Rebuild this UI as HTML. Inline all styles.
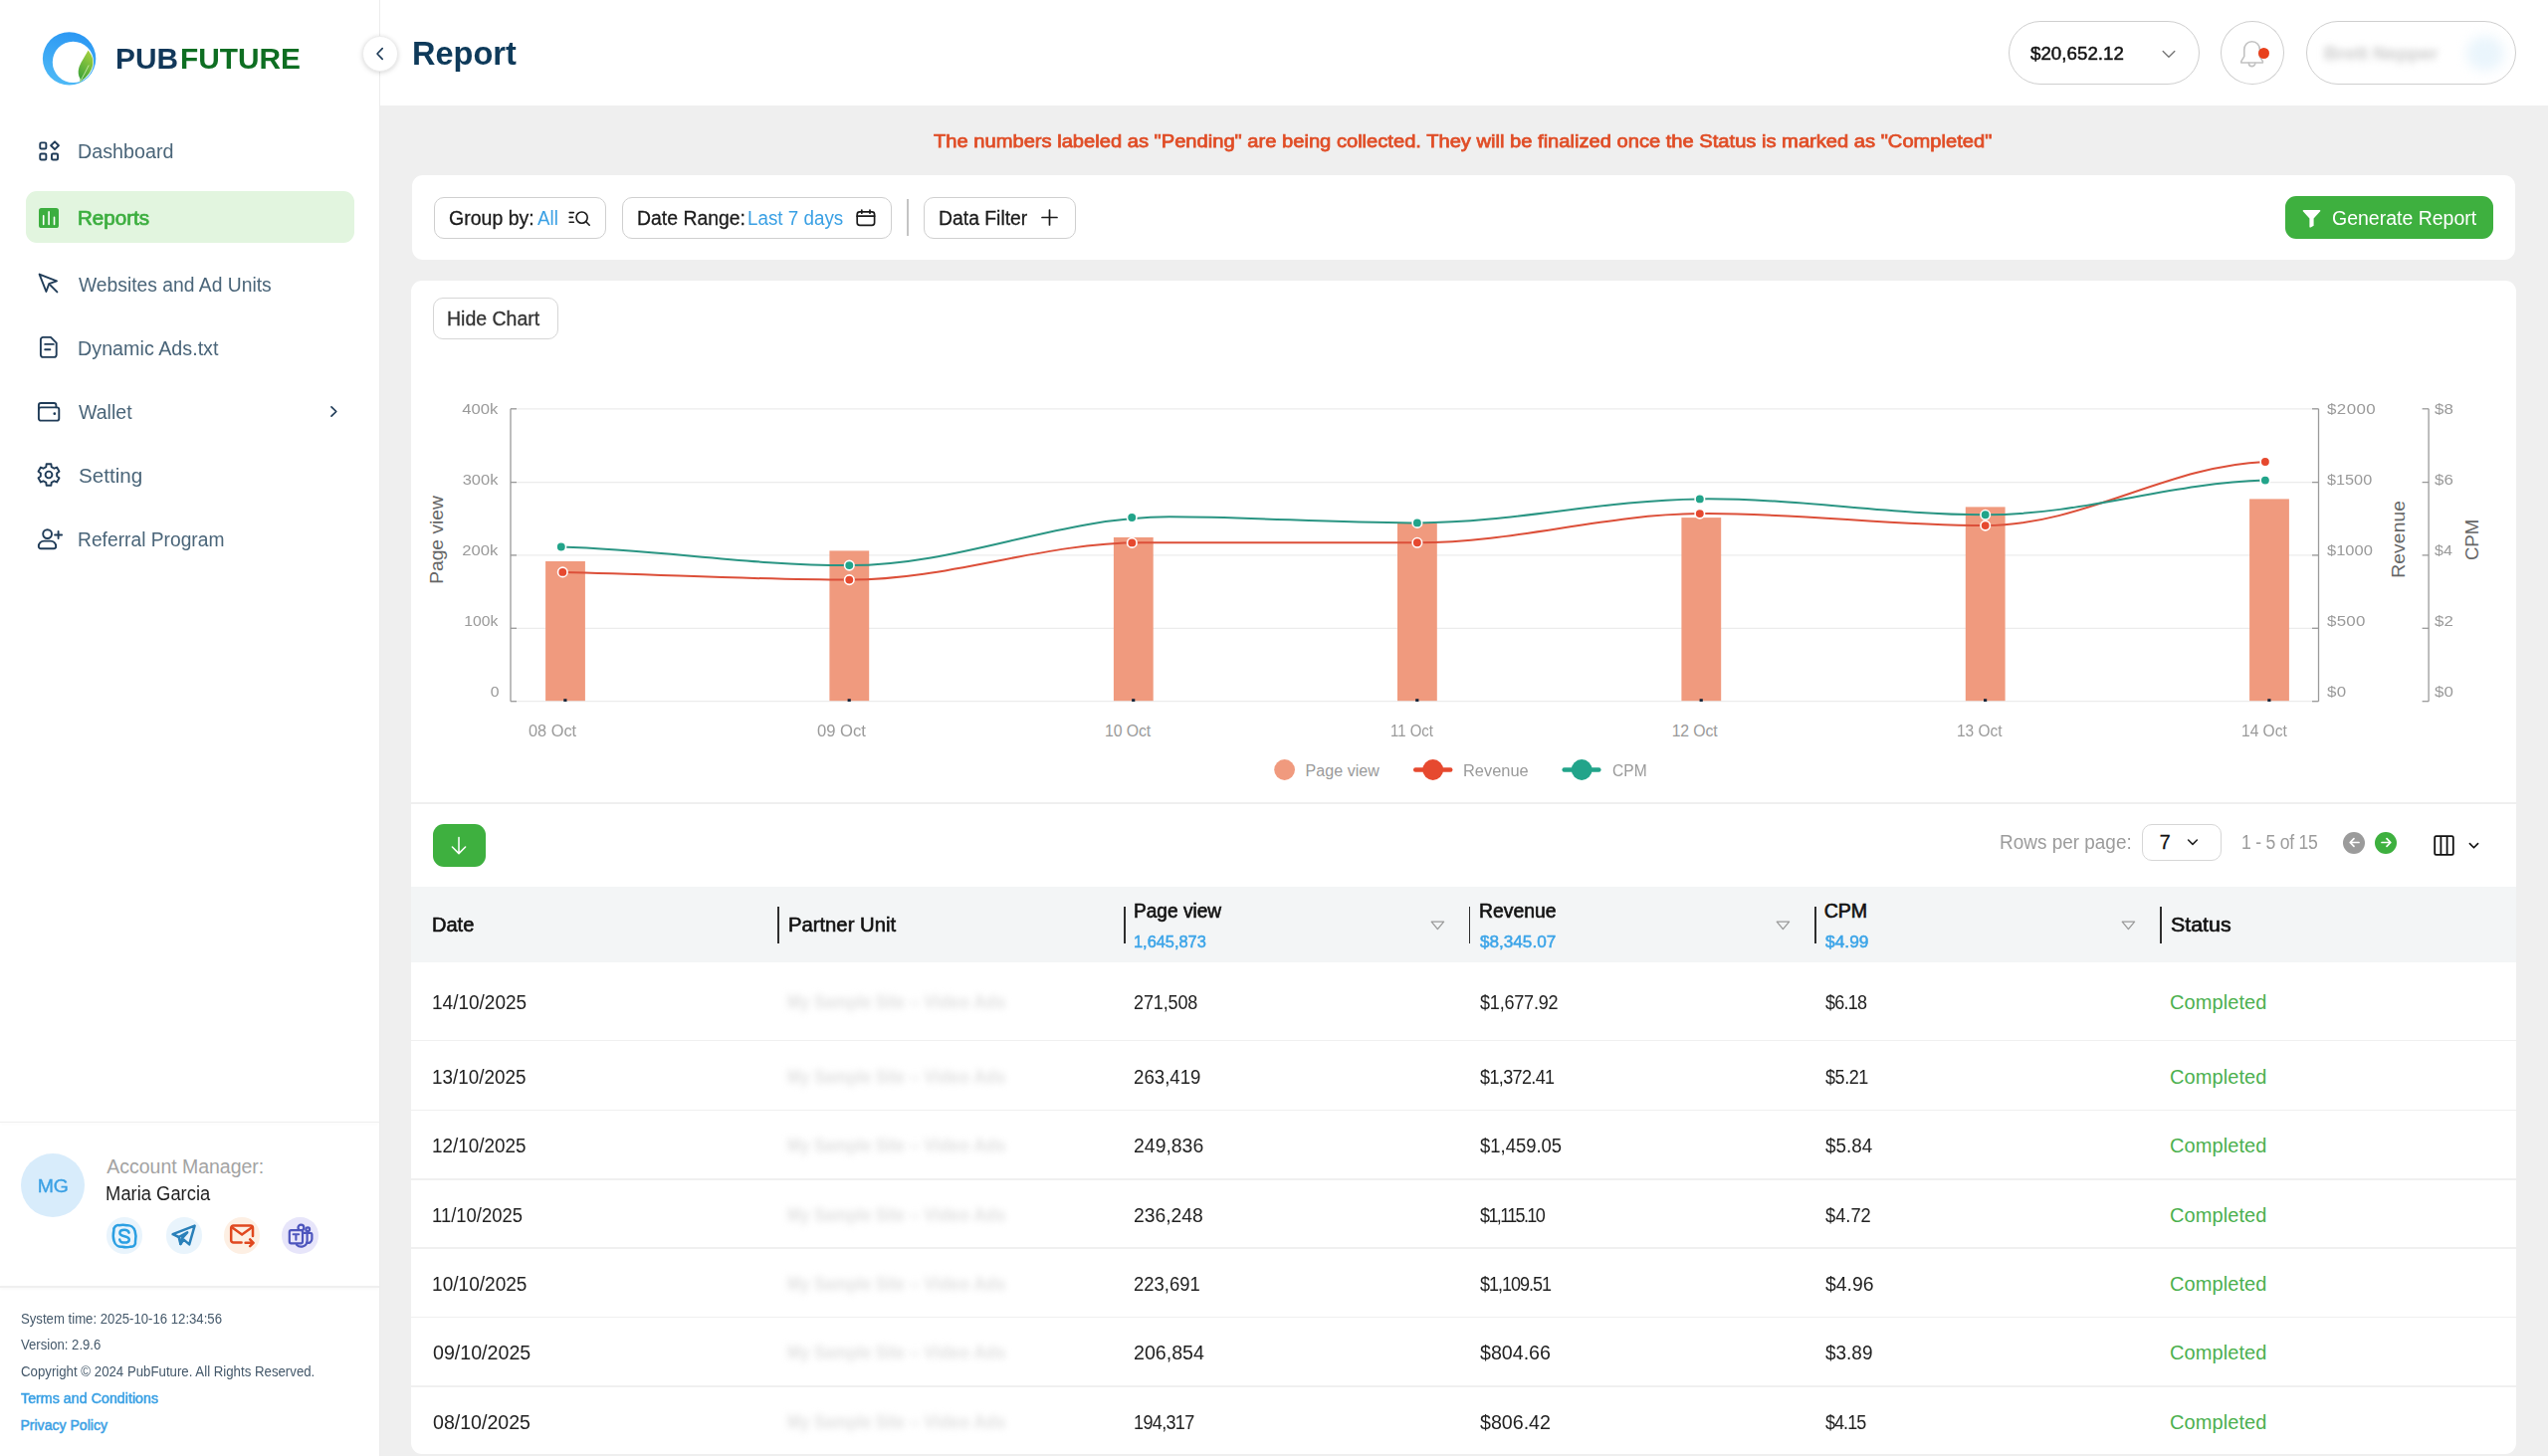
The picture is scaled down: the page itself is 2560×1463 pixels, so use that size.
<!DOCTYPE html>
<html lang="en"><head><meta charset="utf-8"><title>Report - PubFuture</title>
<style>
*{box-sizing:border-box;margin:0;padding:0}
html,body{width:2560px;height:1463px;overflow:hidden;background:#efefef;font-family:"Liberation Sans",sans-serif;}
.t{position:absolute;white-space:nowrap;line-height:1;display:block}
.abs{position:absolute}
.box{position:absolute;background:#fff}
.btn{position:absolute;border:1.5px solid #cfcfcf;border-radius:10px;background:#fff}
svg{position:absolute;overflow:visible}
.blur{filter:blur(3.2px)}
</style></head><body>
<div class="box" style="left:0;top:0;width:382px;height:1463px;border-right:1px solid #ececec"></div>
<div class="box" style="left:382px;top:0;width:2178px;height:105.5px"></div>
<svg style="left:41px;top:30px" width="58" height="58" viewBox="0 0 58 58">
<defs><linearGradient id="lg1" x1="0.6" y1="0" x2="0.3" y2="1"><stop offset="0" stop-color="#2b97f3"/><stop offset="1" stop-color="#4fbaf6"/></linearGradient>
<linearGradient id="lg2" x1="0.3" y1="1" x2="0.7" y2="0"><stop offset="0" stop-color="#3aa23a"/><stop offset="1" stop-color="#a4d03e"/></linearGradient></defs>
<path fill-rule="evenodd" fill="url(#lg1)" d="M28.6 2.2 A26.7 26.7 0 1 0 28.6 55.6 A26.7 26.7 0 1 0 28.6 2.2 Z M32.4 11.8 A20.6 20.6 0 1 1 32.4 53 A20.6 20.6 0 1 1 32.4 11.8 Z"/>
<path fill="url(#lg2)" d="M47.6 20.5 C50.5 24 53.2 29 52.3 34.5 C51.5 40.5 47.5 46.5 42.5 49.8 L39.1 52.8 L39.6 49.2 C37.6 46 37.2 42 38.2 38.5 C39.6 33.5 43.5 28 47.6 20.5 Z"/>
<path d="M48.2 35.5 C45.5 41 42.5 47 39.3 52.4" stroke="#d9f2bb" stroke-width="0.8" fill="none"/>
</svg>
<span class="t" style="left:116.10px;top:44.59px;font-size:29.2px;color:#12385a;font-weight:700;transform-origin:1.00px 14.60px;transform:scaleX(1.0227);">PUB</span>
<span class="t" style="left:181.00px;top:44.59px;font-size:29.2px;color:#0e6e22;font-weight:700;transform-origin:1.00px 14.60px;transform:scaleX(1.0223);">FUTURE</span>
<div class="abs" style="left:363.6px;top:35.8px;width:36.4px;height:36.4px;border-radius:50%;background:#fff;border:1px solid #ececec;box-shadow:0 1px 5px rgba(0,0,0,.16)"></div>
<svg style="left:376px;top:47px" width="12" height="14" viewBox="0 0 12 14"><path d="M8.2 1.6 L3 7 L8.2 12.4" fill="none" stroke="#1d3b57" stroke-width="1.6" stroke-linecap="round" stroke-linejoin="round"/></svg>
<span class="t" style="left:413.90px;top:37.48px;font-size:33px;color:#0e3a5a;font-weight:700;transform-origin:2.00px 16.50px;transform:scaleX(0.9843);">Report</span>
<svg style="left:38px;top:141px" width="23" height="23" viewBox="0 0 23 23" fill="none" stroke="#1f3b57" stroke-width="1.9" stroke-linejoin="round">
<rect x="2.25" y="2.35" width="6.1" height="6.1" rx="1.3"/><rect x="2.25" y="13.45" width="6.1" height="6.1" rx="1.3"/><rect x="13.95" y="13.45" width="6.1" height="6.1" rx="1.3"/>
<path d="M17.03 1.35 L20.93 5.25 L17.03 9.15 L13.13 5.25 Z"/></svg>
<span class="t" style="left:78.20px;top:142.23px;font-size:20px;color:#4a6579;transform-origin:1.00px 10.00px;transform:scaleX(0.9852);">Dashboard</span>
<div class="abs" style="left:25.8px;top:192.4px;width:330px;height:52px;border-radius:11px;background:#e2f5df"></div>
<svg style="left:39.3px;top:208.7px" width="20" height="20" viewBox="0 0 20 20"><rect x="0" y="0" width="20" height="20" rx="2.6" fill="#3cae3f"/>
<path d="M4.7 7.8 V16.5 M10.1 3.9 V16.5 M15.5 9.3 V16.5" stroke="#fff" stroke-width="1.6" stroke-linecap="round"/></svg>
<span class="t" style="left:78.20px;top:209.03px;font-size:20px;color:#3cae3f;transform-origin:1.00px 10.00px;transform:scaleX(1.0300);-webkit-text-stroke:0.7px #3cae3f;">Reports</span>
<svg style="left:37px;top:273px" width="24" height="24" viewBox="0 0 24 24" fill="none" stroke="#1f3b57" stroke-width="1.9" stroke-linejoin="round" stroke-linecap="round">
<path d="M2.6 2.6 L9.4 20 L12.2 12.2 L20 9.4 Z"/><path d="M13.4 13.4 L20.4 20.4"/></svg>
<span class="t" style="left:79.20px;top:275.53px;font-size:20px;color:#4a6579;transform-origin:0.00px 10.00px;transform:scaleX(0.9646);">Websites and Ad Units</span>
<svg style="left:39.4px;top:337.2px" width="20" height="24" viewBox="0 0 20 24" fill="none" stroke="#1f3b57" stroke-width="1.9" stroke-linejoin="round" stroke-linecap="round">
<path d="M1.9 4.2 a2.3 2.3 0 0 1 2.3 -2.3 H12 L17.7 7.6 V19.6 a2.3 2.3 0 0 1 -2.3 2.3 H4.2 a2.3 2.3 0 0 1 -2.3 -2.3 Z"/><path d="M6.2 8.9 H14.8 M6.2 14.2 H11.4"/></svg>
<span class="t" style="left:78.20px;top:339.73px;font-size:20px;color:#4a6579;transform-origin:1.00px 10.00px;transform:scaleX(0.9866);">Dynamic Ads.txt</span>
<svg style="left:37.2px;top:402.6px" width="24" height="22" viewBox="0 0 24 22" fill="none" stroke="#1f3b57" stroke-width="1.9" stroke-linejoin="round" stroke-linecap="round">
<rect x="1.9" y="6.4" width="20.4" height="13.2" rx="2.2"/><path d="M1.9 8.4 V4.2 a2.2 2.2 0 0 1 2.2 -2.2 H17.2 a2.2 2.2 0 0 1 2.2 2.2 V6.2"/><circle cx="17.8" cy="12.7" r="1.35" fill="#1f3b57" stroke="none"/></svg>
<span class="t" style="left:79.20px;top:403.63px;font-size:20px;color:#4a6579;transform-origin:0.00px 10.00px;transform:scaleX(0.9771);">Wallet</span>
<svg style="left:331px;top:407px" width="9" height="13" viewBox="0 0 9 13"><path d="M2 1.8 L6.8 6.5 L2 11.2" fill="none" stroke="#1f3b57" stroke-width="1.7" stroke-linecap="round" stroke-linejoin="round"/></svg>
<svg style="left:37.4px;top:465.2px" width="24" height="24" viewBox="0 0 24 24" fill="none" stroke="#1f3b57" stroke-width="1.9" stroke-linejoin="round" stroke-linecap="round">
<path d="M9.30 4.15 L9.62 1.26 L14.38 1.26 L14.70 4.15 L17.45 5.74 L20.11 4.57 L22.49 8.69 L20.15 10.42 L20.15 13.58 L22.49 15.31 L20.11 19.43 L17.45 18.26 L14.70 19.85 L14.38 22.74 L9.62 22.74 L9.30 19.85 L6.55 18.26 L3.89 19.43 L1.51 15.31 L3.85 13.58 L3.85 10.42 L1.51 8.69 L3.89 4.57 L6.55 5.74 Z"/><circle cx="12" cy="12" r="3.4"/></svg>
<span class="t" style="left:79.20px;top:468.03px;font-size:20px;color:#4a6579;transform-origin:0.00px 10.00px;transform:scaleX(1.0320);">Setting</span>
<svg style="left:36.6px;top:530px" width="27" height="23" viewBox="0 0 27 23" fill="none" stroke="#1f3b57" stroke-width="1.9" stroke-linejoin="round" stroke-linecap="round">
<circle cx="10.6" cy="6.6" r="4.4"/><path d="M1.8 19 c0 -3 2.4 -5.4 5.4 -5.4 h6.6 c3 0 5.4 2.4 5.4 5.4 c0 1.2 -1 2.2 -2.2 2.2 H4 c-1.2 0 -2.2 -1 -2.2 -2.2 Z"/><path d="M21.6 4 V11 M18.1 7.5 H25.1"/></svg>
<span class="t" style="left:78.20px;top:531.83px;font-size:20px;color:#4a6579;transform-origin:1.00px 10.00px;transform:scaleX(0.9610);">Referral Program</span>
<div class="abs" style="left:0;top:1126.5px;width:381px;height:1.6px;background:#efefef;box-shadow:0 1px 3px rgba(0,0,0,.04)"></div>
<div class="abs" style="left:21.4px;top:1159px;width:64px;height:64px;border-radius:50%;background:#d8ecfb"></div>
<span class="t" style="left:37.99px;top:1181.72px;font-size:19px;color:#3aa0e4;transform-origin:15.41px 9.50px;transform:scaleX(1.0233);-webkit-text-stroke:0.35px #3aa0e4;">MG</span>
<span class="t" style="left:107.30px;top:1163.47px;font-size:19.5px;color:#a3a3a3;letter-spacing:-0.023px;">Account Manager:</span>
<span class="t" style="left:106.30px;top:1189.43px;font-size:20px;color:#1f1f1f;transform-origin:1.00px 10.00px;transform:scaleX(0.9182);">Maria Garcia</span>
<div class="abs" style="left:107.1px;top:1223.3px;width:36.4px;height:36.4px;border-radius:50%;background:#e9f4fc"></div>
<div class="abs" style="left:166.5px;top:1223.3px;width:36.4px;height:36.4px;border-radius:50%;background:#e9f4fc"></div>
<div class="abs" style="left:224.9px;top:1223.3px;width:36.4px;height:36.4px;border-radius:50%;background:#fdefe3"></div>
<div class="abs" style="left:283.3px;top:1223.3px;width:36.4px;height:36.4px;border-radius:50%;background:#e7e5fa"></div>
<svg style="left:112.3px;top:1228.5px" width="26" height="26" viewBox="0 0 26 26" fill="none" stroke="#2b9fe2" stroke-width="2.5" stroke-linecap="round" stroke-linejoin="round">
<path d="M7.6 2.2 C5 1.6 2 4 2.4 7.2 C1.6 10.5 1.6 15 2.6 18 C3.6 22 7.2 24.2 10.8 23.8 C14 24.6 17 24.4 19.2 23.6 C22.4 24 24.6 21.4 24 18.6 C24.8 15 24.6 11 23.6 8 C22.6 4 19 1.8 15.4 2.2 C12.6 1.4 9.8 1.6 7.6 2.2 Z"/>
<path d="M17.6 9.6 C17 7.6 15.2 6.8 13 6.8 C10.4 6.8 8.4 8 8.4 10 C8.4 14.4 17.8 12 17.8 16.4 C17.8 18.4 15.8 19.6 13.2 19.6 C10.6 19.6 8.6 18.4 8.2 16.4"/></svg>
<svg style="left:171.2px;top:1229.0px" width="27" height="25" viewBox="0 0 27 25" fill="none" stroke="#2a80b9" stroke-width="2.5" stroke-linecap="round" stroke-linejoin="round">
<path d="M24.6 2.6 L2.6 11.2 L8.6 14 L10.4 21 L13.6 16.6 L19.2 21.4 Z"/><path d="M8.6 14 L17.2 9.4 L11.6 15.6 L10.4 21"/></svg>
<svg style="left:229.6px;top:1229.0px" width="27" height="25" viewBox="0 0 27 25" fill="none" stroke="#e0481f" stroke-width="2.5" stroke-linecap="round" stroke-linejoin="round">
<path d="M12.6 19.6 H4.6 a2.4 2.4 0 0 1 -2.4 -2.4 V4.8 a2.4 2.4 0 0 1 2.4 -2.4 H21.6 a2.4 2.4 0 0 1 2.4 2.4 V13"/><path d="M3.4 4.6 L13.1 11.6 L22.8 4.6"/><path d="M16.6 19.8 H24.4 M21.2 16.4 L24.6 19.8 L21.2 23.2"/></svg>
<svg style="left:288.5px;top:1228.5px" width="26" height="26" viewBox="0 0 26 26" fill="none" stroke="#4d55bd" stroke-width="2.2" stroke-linecap="round" stroke-linejoin="round">
<circle cx="13.4" cy="4.6" r="2.9"/><circle cx="20.2" cy="6.2" r="1.9"/>
<path d="M19.4 10 H23.2 a1.2 1.2 0 0 1 1.2 1.2 V16 a4 4 0 0 1 -5.4 3.7"/><path d="M14 9.8 H18.4 a1.2 1.2 0 0 1 1.2 1.2 V17.4 a6.2 6.2 0 0 1 -10.6 4.4"/>
<rect x="1.8" y="7.2" width="13.2" height="13.2" rx="1.8" fill="#e7e5fa"/><path d="M5.6 11.2 H11.2 M8.4 11.2 V16.8" stroke-width="2.1"/></svg>
<div class="abs" style="left:0;top:1292.3px;width:381px;height:1.6px;background:#efefef;box-shadow:0 1px 3px rgba(0,0,0,.04)"></div>
<span class="t" style="left:21.40px;top:1318.06px;font-size:14px;color:#44586a;transform-origin:0.00px 7.00px;transform:scaleX(0.9404);">System time: 2025-10-16 12:34:56</span>
<span class="t" style="left:21.40px;top:1344.46px;font-size:14px;color:#44586a;transform-origin:0.00px 7.00px;transform:scaleX(0.9379);">Version: 2.9.6</span>
<span class="t" style="left:21.40px;top:1371.26px;font-size:14px;color:#44586a;transform-origin:0.00px 7.00px;transform:scaleX(0.9457);">Copyright © 2024 PubFuture. All Rights Reserved.</span>
<span class="t" style="left:21.40px;top:1397.96px;font-size:14px;color:#3aa0e4;transform-origin:0.00px 7.00px;transform:scaleX(1.0199);-webkit-text-stroke:0.5px #3aa0e4;">Terms and Conditions</span>
<span class="t" style="left:20.40px;top:1424.86px;font-size:14px;color:#3aa0e4;letter-spacing:0.036px;-webkit-text-stroke:0.5px #3aa0e4;">Privacy Policy</span>
<div class="abs" style="left:2018px;top:21.4px;width:191.6px;height:63.6px;border:1.5px solid #cfcfcf;border-radius:32px;background:#fff"></div>
<span class="t" style="left:2039.90px;top:45.11px;font-size:18.2px;color:#111;transform-origin:0.00px 9.10px;transform:scaleX(1.0318);-webkit-text-stroke:0.45px #111;">$20,652.12</span>
<svg style="left:2171.5px;top:49.8px" width="14" height="9" viewBox="0 0 14 9"><path d="M1.2 1.4 L7 7.2 L12.8 1.4" fill="none" stroke="#777" stroke-width="1.4" stroke-linecap="round" stroke-linejoin="round"/></svg>
<div class="abs" style="left:2231px;top:21.4px;width:63.8px;height:63.6px;border:1.5px solid #cfcfcf;border-radius:50%;background:#fff"></div>
<svg style="left:2250.4px;top:39.8px" width="26" height="30" viewBox="0 0 26 30" fill="none" stroke="#c2c2c2" stroke-width="1.6" stroke-linecap="round" stroke-linejoin="round">
<path d="M12.6 1.8 C7.6 1.8 4.8 5.6 4.8 10 V16.6 L1.8 21.6 V23 H23.4 V21.6 L20.4 16.6 V10 C20.4 5.6 17.6 1.8 12.6 1.8 Z"/><path d="M9.4 23.4 a3.2 3.2 0 0 0 6.4 0"/></svg>
<div class="abs" style="left:2268.5px;top:47.8px;width:11px;height:11px;border-radius:50%;background:#e8401c"></div>
<div class="abs" style="left:2317px;top:21.4px;width:211px;height:63.6px;border:1.5px solid #cfcfcf;border-radius:32px;background:#fff"></div>
<span class="t" style="left:2335.00px;top:44.12px;font-size:19px;color:#cacaca;font-weight:700;letter-spacing:-0.062px;filter:blur(3.6px);">Brett Nepper</span>
<div class="abs" style="left:2478px;top:36px;width:38px;height:35px;border-radius:50%;background:#eaf5fc;filter:blur(6px)"></div>
<span class="t" style="left:938.40px;top:132.82px;font-size:18.8px;color:#e04d26;transform-origin:0.00px 9.40px;transform:scaleX(1.0719);-webkit-text-stroke:0.75px #e04d26;">The numbers labeled as "Pending" are being collected. They will be finalized once the Status is marked as "Completed"</span>
<div class="box" style="left:414.2px;top:175.8px;width:2113.1px;height:85.5px;border-radius:11px"></div>
<div class="btn" style="left:436.2px;top:197.6px;width:172.8px;height:42px"></div>
<span class="t" style="left:450.80px;top:209.13px;font-size:20px;color:#1b1b1b;transform-origin:1.00px 10.00px;transform:scaleX(0.9758);-webkit-text-stroke:0.3px #1b1b1b;">Group by:</span>
<span class="t" style="left:540.20px;top:209.13px;font-size:20px;color:#3aa0e4;transform-origin:0.00px 10.00px;transform:scaleX(0.9365);">All</span>
<svg style="left:571px;top:209px" width="23" height="20" viewBox="0 0 23 20" fill="none" stroke="#1b1b1b" stroke-width="1.6" stroke-linecap="round">
<circle cx="13.6" cy="9.6" r="5.6"/><path d="M17.8 13.8 L21.2 17.2"/><path d="M1.2 4.6 H5.4 M1.2 9.4 H4.4 M1.2 14.2 H5.4"/></svg>
<div class="btn" style="left:625.2px;top:197.6px;width:270.4px;height:42px"></div>
<span class="t" style="left:640.20px;top:209.13px;font-size:20px;color:#1b1b1b;transform-origin:1.00px 10.00px;transform:scaleX(0.9696);-webkit-text-stroke:0.3px #1b1b1b;">Date Range:</span>
<span class="t" style="left:751.20px;top:209.13px;font-size:20px;color:#3aa0e4;transform-origin:1.00px 10.00px;transform:scaleX(0.9399);">Last 7 days</span>
<svg style="left:859.6px;top:210.2px" width="20" height="18" viewBox="0 0 20 18" fill="none" stroke="#1b1b1b" stroke-width="1.7" stroke-linecap="round" stroke-linejoin="round">
<rect x="1.2" y="2.8" width="17.4" height="13.6" rx="2.6"/><path d="M1.2 7.2 H18.6 M5.8 1 V4.2 M14 1 V4.2"/></svg>
<div class="abs" style="left:911.2px;top:200px;width:1.6px;height:37px;background:#c4c4c4"></div>
<div class="btn" style="left:928.2px;top:197.6px;width:152.6px;height:42px"></div>
<span class="t" style="left:943.20px;top:209.13px;font-size:20px;color:#1b1b1b;transform-origin:1.00px 10.00px;transform:scaleX(0.9674);-webkit-text-stroke:0.3px #1b1b1b;">Data Filter</span>
<svg style="left:1046px;top:210.2px" width="17" height="17" viewBox="0 0 17 17"><path d="M8.5 1 V16 M1 8.5 H16" stroke="#1b1b1b" stroke-width="1.7" stroke-linecap="round"/></svg>
<div class="abs" style="left:2296px;top:197.2px;width:209.2px;height:42.7px;border-radius:11px;background:#3eb03f"></div>
<svg style="left:2313px;top:209.8px" width="19" height="19" viewBox="0 0 19 19"><path d="M1.4 1 H17.6 a0.8 0.8 0 0 1 0.6 1.3 L11.6 9.6 V16.4 a0.8 0.8 0 0 1 -0.4 0.7 L8.6 18.4 a0.8 0.8 0 0 1 -1.2 -0.7 V9.6 L0.8 2.3 A0.8 0.8 0 0 1 1.4 1 Z" fill="#fff"/></svg>
<span class="t" style="left:2343.00px;top:209.13px;font-size:20px;color:#fff;transform-origin:1.00px 10.00px;transform:scaleX(0.9743);">Generate Report</span>
<div class="box" style="left:413.4px;top:282.3px;width:2114.9px;height:1178.5px;border-radius:11px"></div>
<div class="btn" style="left:434.6px;top:299px;width:126.2px;height:41.8px;border-color:#d6d6d6"></div>
<span class="t" style="left:449.40px;top:310.23px;font-size:20px;color:#333;transform-origin:1.00px 10.00px;transform:scaleX(0.9743);-webkit-text-stroke:0.3px #333;">Hide Chart</span>
<svg style="left:0;top:0" width="2560" height="1463" viewBox="0 0 2560 1463">
<path d="M513 410.8 H2329" stroke="#ececec" stroke-width="1.3"/>
<path d="M513 484.6 H2329" stroke="#ececec" stroke-width="1.3"/>
<path d="M513 557.9 H2329" stroke="#ececec" stroke-width="1.3"/>
<path d="M513 631.3 H2329" stroke="#ececec" stroke-width="1.3"/>
<path d="M513 704.7 H2329" stroke="#ececec" stroke-width="1.3"/>
<path d="M513 410.8 V704.7" stroke="#9a9a9a" stroke-width="1.3"/>
<path d="M513 410.8 h6" stroke="#9a9a9a" stroke-width="1.3"/>
<path d="M513 484.6 h6" stroke="#9a9a9a" stroke-width="1.3"/>
<path d="M513 557.9 h6" stroke="#9a9a9a" stroke-width="1.3"/>
<path d="M513 631.3 h6" stroke="#9a9a9a" stroke-width="1.3"/>
<path d="M513 704.7 h6" stroke="#9a9a9a" stroke-width="1.3"/>
<path d="M2329.5 410.8 V704.7" stroke="#9a9a9a" stroke-width="1.3"/>
<path d="M2329.5 410.8 h-6.5" stroke="#9a9a9a" stroke-width="1.3"/>
<path d="M2329.5 484.6 h-6.5" stroke="#9a9a9a" stroke-width="1.3"/>
<path d="M2329.5 557.9 h-6.5" stroke="#9a9a9a" stroke-width="1.3"/>
<path d="M2329.5 631.3 h-6.5" stroke="#9a9a9a" stroke-width="1.3"/>
<path d="M2329.5 704.7 h-6.5" stroke="#9a9a9a" stroke-width="1.3"/>
<path d="M2440.1 410.8 V704.7" stroke="#9a9a9a" stroke-width="1.3"/>
<path d="M2440.1 410.8 h-6.5" stroke="#9a9a9a" stroke-width="1.3"/>
<path d="M2440.1 484.6 h-6.5" stroke="#9a9a9a" stroke-width="1.3"/>
<path d="M2440.1 557.9 h-6.5" stroke="#9a9a9a" stroke-width="1.3"/>
<path d="M2440.1 631.3 h-6.5" stroke="#9a9a9a" stroke-width="1.3"/>
<path d="M2440.1 704.7 h-6.5" stroke="#9a9a9a" stroke-width="1.3"/>
<rect x="548.1" y="564.0" width="39.8" height="140.2" fill="#f09a7e"/>
<rect x="833.4" y="553.4" width="39.8" height="150.8" fill="#f09a7e"/>
<rect x="1118.9" y="539.9" width="39.8" height="164.3" fill="#f09a7e"/>
<rect x="1404.0" y="526.0" width="39.8" height="178.2" fill="#f09a7e"/>
<rect x="1689.4" y="520.1" width="39.8" height="184.1" fill="#f09a7e"/>
<rect x="1974.8" y="509.4" width="39.8" height="194.8" fill="#f09a7e"/>
<rect x="2260.1" y="501.4" width="39.8" height="202.8" fill="#f09a7e"/>
<rect x="566.3" y="702.2" width="3.2" height="2.8" fill="#16263a"/>
<rect x="851.6" y="702.2" width="3.2" height="2.8" fill="#16263a"/>
<rect x="1137.1" y="702.2" width="3.2" height="2.8" fill="#16263a"/>
<rect x="1422.2" y="702.2" width="3.2" height="2.8" fill="#16263a"/>
<rect x="1707.6" y="702.2" width="3.2" height="2.8" fill="#16263a"/>
<rect x="1993.0" y="702.2" width="3.2" height="2.8" fill="#16263a"/>
<rect x="2278.3" y="702.2" width="3.2" height="2.8" fill="#16263a"/>
<path d="M565.3 574.9 C666.1 576.9 752.5 582.6 853.3 582.6 C956.1 582.6 1044.2 545.3 1147.0 545.3 C1243.9 545.3 1327.0 545.3 1423.9 545.3 C1523.3 545.3 1608.4 517.1 1707.8 516.1 C1808.2 515.1 1894.3 528.1 1994.7 528.1 C2093.1 528.1 2177.5 467.9 2275.9 464.0" fill="none" stroke="#dc4f39" stroke-width="2"/>
<path d="M563.8 549.5 C665.1 552.5 752.0 568.1 853.3 568.1 C965.9 568.1 1062.4 519.3 1175.0 519.3 C1262.1 519.3 1336.8 525.8 1423.9 525.4 C1523.3 524.9 1608.4 502.4 1707.8 501.4 C1808.2 500.4 1894.3 517.3 1994.7 517.3 C2093.1 517.3 2177.5 485.6 2275.9 482.6" fill="none" stroke="#2a9583" stroke-width="2"/>
<circle cx="565.3" cy="574.9" r="4.75" fill="#e6492f" stroke="#fff" stroke-width="1.6"/>
<circle cx="853.3" cy="582.6" r="4.75" fill="#e6492f" stroke="#fff" stroke-width="1.6"/>
<circle cx="1137.3" cy="545.4" r="4.75" fill="#e6492f" stroke="#fff" stroke-width="1.6"/>
<circle cx="1423.9" cy="545.3" r="4.75" fill="#e6492f" stroke="#fff" stroke-width="1.6"/>
<circle cx="1707.8" cy="516.1" r="4.75" fill="#e6492f" stroke="#fff" stroke-width="1.6"/>
<circle cx="1994.7" cy="528.1" r="4.75" fill="#e6492f" stroke="#fff" stroke-width="1.6"/>
<circle cx="2275.9" cy="464.0" r="4.75" fill="#e6492f" stroke="#fff" stroke-width="1.6"/>
<circle cx="563.8" cy="549.5" r="4.75" fill="#22a48a" stroke="#fff" stroke-width="1.6"/>
<circle cx="853.3" cy="568.1" r="4.75" fill="#22a48a" stroke="#fff" stroke-width="1.6"/>
<circle cx="1137.2" cy="520.0" r="4.75" fill="#22a48a" stroke="#fff" stroke-width="1.6"/>
<circle cx="1423.9" cy="525.4" r="4.75" fill="#22a48a" stroke="#fff" stroke-width="1.6"/>
<circle cx="1707.8" cy="501.4" r="4.75" fill="#22a48a" stroke="#fff" stroke-width="1.6"/>
<circle cx="1994.7" cy="517.3" r="4.75" fill="#22a48a" stroke="#fff" stroke-width="1.6"/>
<circle cx="2275.9" cy="482.6" r="4.75" fill="#22a48a" stroke="#fff" stroke-width="1.6"/>
<circle cx="1290.6" cy="773.5" r="10.4" fill="#f09a7e"/>
<path d="M1422.2 773.5 H1457.3" stroke="#e6492f" stroke-width="4.4" stroke-linecap="round"/><circle cx="1439.7" cy="773.5" r="10.4" fill="#e6492f"/>
<path d="M1571.6 773.5 H1606.4" stroke="#22a48a" stroke-width="4.4" stroke-linecap="round"/><circle cx="1589.2" cy="773.5" r="10.4" fill="#22a48a"/>
</svg>
<span class="t" style="left:467.32px;top:403.18px;font-size:15.4px;color:#9a9a9a;transform-origin:33.68px 7.70px;transform:scaleX(1.0808);">400k</span>
<span class="t" style="left:467.32px;top:474.13px;font-size:15.4px;color:#9a9a9a;transform-origin:33.68px 7.70px;transform:scaleX(1.0689);">300k</span>
<span class="t" style="left:467.32px;top:545.08px;font-size:15.4px;color:#9a9a9a;transform-origin:33.68px 7.70px;transform:scaleX(1.0808);">200k</span>
<span class="t" style="left:467.32px;top:616.03px;font-size:15.4px;color:#9a9a9a;transform-origin:33.68px 7.70px;transform:scaleX(1.0221);">100k</span>
<span class="t" style="left:493.00px;top:686.98px;font-size:15.4px;color:#9a9a9a;transform-origin:8.00px 7.70px;transform:scaleX(1.0250);">0</span>
<span class="t" style="left:2338.10px;top:403.18px;font-size:15.4px;color:#9a9a9a;letter-spacing:0.372px;transform-origin:0.00px 7.70px;transform:scaleX(1.1000);">$2000</span>
<span class="t" style="left:2338.10px;top:474.13px;font-size:15.4px;color:#9a9a9a;transform-origin:0.00px 7.70px;transform:scaleX(1.0559);">$1500</span>
<span class="t" style="left:2338.10px;top:545.08px;font-size:15.4px;color:#9a9a9a;transform-origin:0.00px 7.70px;transform:scaleX(1.0725);">$1000</span>
<span class="t" style="left:2338.10px;top:616.03px;font-size:15.4px;color:#9a9a9a;letter-spacing:0.228px;transform-origin:0.00px 7.70px;transform:scaleX(1.1000);">$500</span>
<span class="t" style="left:2338.10px;top:686.98px;font-size:15.4px;color:#9a9a9a;letter-spacing:0.350px;transform-origin:0.00px 7.70px;transform:scaleX(1.1000);">$0</span>
<span class="t" style="left:2446.20px;top:403.18px;font-size:15.4px;color:#9a9a9a;letter-spacing:0.077px;transform-origin:0.00px 7.70px;transform:scaleX(1.1000);">$8</span>
<span class="t" style="left:2446.20px;top:474.13px;font-size:15.4px;color:#9a9a9a;letter-spacing:0.077px;transform-origin:0.00px 7.70px;transform:scaleX(1.1000);">$6</span>
<span class="t" style="left:2446.20px;top:545.08px;font-size:15.4px;color:#9a9a9a;transform-origin:0.00px 7.70px;transform:scaleX(1.0422);">$4</span>
<span class="t" style="left:2446.20px;top:616.03px;font-size:15.4px;color:#9a9a9a;letter-spacing:0.077px;transform-origin:0.00px 7.70px;transform:scaleX(1.1000);">$2</span>
<span class="t" style="left:2446.20px;top:686.98px;font-size:15.4px;color:#9a9a9a;letter-spacing:0.077px;transform-origin:0.00px 7.70px;transform:scaleX(1.1000);">$0</span>
<span class="t" style="left:398.95px;top:533.45px;font-size:17.5px;color:#666;transform-origin:41.05px 8.75px;transform:rotate(-90deg) scaleX(1.0986);">Page view</span>
<span class="t" style="left:2374.70px;top:533.45px;font-size:17.5px;color:#666;letter-spacing:0.114px;transform-origin:35.50px 8.75px;transform:rotate(-90deg) scaleX(1.1000);">Revenue</span>
<span class="t" style="left:2466.34px;top:533.85px;font-size:17.5px;color:#666;transform-origin:19.16px 8.75px;transform:rotate(-90deg) scaleX(1.0598);">CPM</span>
<span class="t" style="left:531.20px;top:727.08px;font-size:15.8px;color:#9a9a9a;transform-origin:0.00px 7.90px;transform:scaleX(1.0351);">08 Oct</span>
<span class="t" style="left:820.70px;top:727.08px;font-size:15.8px;color:#9a9a9a;transform-origin:0.00px 7.90px;transform:scaleX(1.0521);">09 Oct</span>
<span class="t" style="left:1110.00px;top:727.08px;font-size:15.8px;color:#9a9a9a;letter-spacing:-0.089px;">10 Oct</span>
<span class="t" style="left:1396.50px;top:727.08px;font-size:15.8px;color:#9a9a9a;transform-origin:1.00px 7.90px;transform:scaleX(0.9450);">11 Oct</span>
<span class="t" style="left:1679.70px;top:727.08px;font-size:15.8px;color:#9a9a9a;letter-spacing:-0.109px;">12 Oct</span>
<span class="t" style="left:1965.90px;top:727.08px;font-size:15.8px;color:#9a9a9a;transform-origin:1.00px 7.90px;transform:scaleX(0.9773);">13 Oct</span>
<span class="t" style="left:2251.80px;top:727.08px;font-size:15.8px;color:#9a9a9a;transform-origin:1.00px 7.90px;transform:scaleX(0.9838);">14 Oct</span>
<span class="t" style="left:1311.60px;top:766.78px;font-size:16px;color:#9a9a9a;letter-spacing:0.054px;">Page view</span>
<span class="t" style="left:1470.00px;top:766.78px;font-size:16px;color:#9a9a9a;transform-origin:1.00px 8.00px;transform:scaleX(1.0262);">Revenue</span>
<span class="t" style="left:1620.20px;top:766.78px;font-size:16px;color:#9a9a9a;transform-origin:0.00px 8.00px;transform:scaleX(0.9737);">CPM</span>
<div class="abs" style="left:413.4px;top:806.4px;width:2114.9px;height:1.5px;background:#efefef"></div>
<div class="abs" style="left:434.6px;top:828.4px;width:53.4px;height:42.2px;border-radius:11px;background:#3eb03f"></div>
<svg style="left:452.2px;top:839.6px" width="18" height="20" viewBox="0 0 18 20"><path d="M9 1.6 V17.6 M2.4 11 L9 17.6 L15.6 11" fill="none" stroke="#fff" stroke-width="1.5" stroke-linecap="round" stroke-linejoin="round"/></svg>
<span class="t" style="left:2008.70px;top:837.23px;font-size:19.6px;color:#9c9c9c;transform-origin:1.00px 9.80px;transform:scaleX(0.9667);">Rows per page:</span>
<div class="btn" style="left:2152.1px;top:828.1px;width:79.5px;height:37.3px;border-radius:10px;border-color:#d6d6d6"></div>
<span class="t" style="left:2169.80px;top:837.23px;font-size:19.6px;color:#111;-webkit-text-stroke:0.3px #111;">7</span>
<svg style="left:2197px;top:842.2px" width="12" height="9" viewBox="0 0 12 9"><path d="M1.6 2 L6 6.4 L10.4 2" fill="none" stroke="#222" stroke-width="1.6" stroke-linecap="round" stroke-linejoin="round"/></svg>
<span class="t" style="left:2252.40px;top:837.23px;font-size:19.6px;color:#9c9c9c;letter-spacing:-0.289px;transform-origin:1.00px 9.80px;transform:scaleX(0.9000);">1 - 5 of 15</span>
<div class="abs" style="left:2354.2px;top:835.8px;width:22px;height:22px;border-radius:50%;background:#9b9b9b"></div>
<svg style="left:2358.7px;top:840.3px" width="13" height="13" viewBox="0 0 13 13"><path d="M11 6.5 H2.2 M6 2.6 L2.2 6.5 L6 10.4" fill="none" stroke="#fff" stroke-width="1.7" stroke-linecap="round" stroke-linejoin="round"/></svg>
<div class="abs" style="left:2386.2px;top:835.8px;width:22px;height:22px;border-radius:50%;background:#3eb03f"></div>
<svg style="left:2390.7px;top:840.3px" width="13" height="13" viewBox="0 0 13 13"><path d="M2 6.5 H10.8 M7 2.6 L10.8 6.5 L7 10.4" fill="none" stroke="#fff" stroke-width="1.7" stroke-linecap="round" stroke-linejoin="round"/></svg>
<svg style="left:2445.4px;top:839.2px" width="21" height="21" viewBox="0 0 21 21" fill="none" stroke="#111" stroke-width="1.8" stroke-linejoin="round"><rect x="1.2" y="1.2" width="18.6" height="18.6" rx="1.6"/><path d="M7.4 1.2 V19.8 M13.6 1.2 V19.8"/></svg>
<svg style="left:2479.6px;top:846px" width="11" height="8" viewBox="0 0 11 8"><path d="M1.4 1.6 L5.5 5.8 L9.6 1.6" fill="none" stroke="#111" stroke-width="1.6" stroke-linecap="round" stroke-linejoin="round"/></svg>
<div class="abs" style="left:413.4px;top:891px;width:2114.9px;height:76px;background:#f3f5f6"></div>
<div class="abs" style="left:781.3000000000001px;top:910.8px;width:1.6px;height:36.8px;background:#2e2e2e"></div>
<div class="abs" style="left:1129.0px;top:910.8px;width:1.6px;height:36.8px;background:#2e2e2e"></div>
<div class="abs" style="left:1475.7px;top:910.8px;width:1.6px;height:36.8px;background:#2e2e2e"></div>
<div class="abs" style="left:1823.0px;top:910.8px;width:1.6px;height:36.8px;background:#2e2e2e"></div>
<div class="abs" style="left:2170.0px;top:910.8px;width:1.6px;height:36.8px;background:#2e2e2e"></div>
<span class="t" style="left:434.20px;top:920.13px;font-size:19.6px;color:#111;transform-origin:1.00px 9.80px;transform:scaleX(1.0225);-webkit-text-stroke:0.6px #111;">Date</span>
<span class="t" style="left:791.50px;top:920.13px;font-size:19.6px;color:#111;transform-origin:1.00px 9.80px;transform:scaleX(1.0336);-webkit-text-stroke:0.6px #111;">Partner Unit</span>
<span class="t" style="left:2181.20px;top:920.13px;font-size:19.6px;color:#111;transform-origin:0.00px 9.80px;transform:scaleX(1.0906);-webkit-text-stroke:0.6px #111;">Status</span>
<span class="t" style="left:1138.90px;top:905.63px;font-size:19.6px;color:#111;transform-origin:1.00px 9.80px;transform:scaleX(0.9739);-webkit-text-stroke:0.6px #111;">Page view</span>
<span class="t" style="left:1138.90px;top:938.78px;font-size:16px;color:#3ba4e8;transform-origin:1.00px 8.00px;transform:scaleX(1.0230);-webkit-text-stroke:0.5px #3ba4e8;">1,645,873</span>
<span class="t" style="left:1485.80px;top:905.63px;font-size:19.6px;color:#111;transform-origin:1.00px 9.80px;transform:scaleX(0.9879);-webkit-text-stroke:0.6px #111;">Revenue</span>
<span class="t" style="left:1486.80px;top:938.78px;font-size:16px;color:#3ba4e8;transform-origin:0.00px 8.00px;transform:scaleX(1.0704);-webkit-text-stroke:0.5px #3ba4e8;">$8,345.07</span>
<span class="t" style="left:1832.70px;top:905.63px;font-size:19.6px;color:#111;letter-spacing:-0.109px;-webkit-text-stroke:0.6px #111;">CPM</span>
<span class="t" style="left:1833.70px;top:938.78px;font-size:16px;color:#3ba4e8;transform-origin:0.00px 8.00px;transform:scaleX(1.0862);-webkit-text-stroke:0.5px #3ba4e8;">$4.99</span>
<svg style="left:1436.9px;top:925.2px" width="15" height="10" viewBox="0 0 15 10"><path d="M1.2 1.2 H13.6 L7.4 8.6 Z" fill="none" stroke="#9a9a9a" stroke-width="1.3" stroke-linejoin="round"/></svg>
<svg style="left:1783.8px;top:925.2px" width="15" height="10" viewBox="0 0 15 10"><path d="M1.2 1.2 H13.6 L7.4 8.6 Z" fill="none" stroke="#9a9a9a" stroke-width="1.3" stroke-linejoin="round"/></svg>
<svg style="left:2131.0px;top:925.2px" width="15" height="10" viewBox="0 0 15 10"><path d="M1.2 1.2 H13.6 L7.4 8.6 Z" fill="none" stroke="#9a9a9a" stroke-width="1.3" stroke-linejoin="round"/></svg>
<div class="abs" style="left:413.4px;top:1044.6000000000001px;width:2114.9px;height:1.6px;background:#f0f0f0"></div>
<div class="abs" style="left:413.4px;top:1114.6000000000001px;width:2114.9px;height:1.6px;background:#f0f0f0"></div>
<div class="abs" style="left:413.4px;top:1184.2px;width:2114.9px;height:1.6px;background:#f0f0f0"></div>
<div class="abs" style="left:413.4px;top:1253.4px;width:2114.9px;height:1.6px;background:#f0f0f0"></div>
<div class="abs" style="left:413.4px;top:1322.6000000000001px;width:2114.9px;height:1.6px;background:#f0f0f0"></div>
<div class="abs" style="left:413.4px;top:1392.0px;width:2114.9px;height:1.6px;background:#f0f0f0"></div>
<span class="t" style="left:434.20px;top:997.03px;font-size:20px;color:#222;transform-origin:1.00px 10.00px;transform:scaleX(0.9497);">14/10/2025</span>
<span class="t" style="left:791.00px;top:998.01px;font-size:18px;color:#e0e0e0;font-weight:700;letter-spacing:-0.080px;transform-origin:1.00px 9.00px;transform:scaleX(0.9000);filter:blur(3.5px);">My Sample Site</span>
<span class="t" style="left:914.00px;top:998.01px;font-size:18px;color:#e0e0e0;font-weight:700;transform-origin:0.00px 9.00px;transform:scaleX(0.9446);filter:blur(3.5px);">– Video Ads</span>
<span class="t" style="left:1139.10px;top:997.03px;font-size:20px;color:#222;letter-spacing:-0.158px;transform-origin:1.00px 10.00px;transform:scaleX(0.9000);">271,508</span>
<span class="t" style="left:1486.90px;top:997.03px;font-size:20px;color:#222;letter-spacing:-0.218px;transform-origin:0.00px 10.00px;transform:scaleX(0.9000);">$1,677.92</span>
<span class="t" style="left:1834.20px;top:997.03px;font-size:20px;color:#222;letter-spacing:-0.870px;transform-origin:0.00px 10.00px;transform:scaleX(0.9000);">$6.18</span>
<span class="t" style="left:2180.00px;top:997.03px;font-size:20px;color:#4bb04e;letter-spacing:0.088px;">Completed</span>
<span class="t" style="left:434.20px;top:1071.83px;font-size:20px;color:#222;transform-origin:1.00px 10.00px;transform:scaleX(0.9427);">13/10/2025</span>
<span class="t" style="left:791.00px;top:1072.81px;font-size:18px;color:#e0e0e0;font-weight:700;letter-spacing:-0.080px;transform-origin:1.00px 9.00px;transform:scaleX(0.9000);filter:blur(3.5px);">My Sample Site</span>
<span class="t" style="left:914.00px;top:1072.81px;font-size:18px;color:#e0e0e0;font-weight:700;transform-origin:0.00px 9.00px;transform:scaleX(0.9446);filter:blur(3.5px);">– Video Ads</span>
<span class="t" style="left:1139.10px;top:1071.83px;font-size:20px;color:#222;transform-origin:1.00px 10.00px;transform:scaleX(0.9315);">263,419</span>
<span class="t" style="left:1486.90px;top:1071.83px;font-size:20px;color:#222;letter-spacing:-0.690px;transform-origin:0.00px 10.00px;transform:scaleX(0.9000);">$1,372.41</span>
<span class="t" style="left:1834.20px;top:1071.83px;font-size:20px;color:#222;letter-spacing:-0.481px;transform-origin:0.00px 10.00px;transform:scaleX(0.9000);">$5.21</span>
<span class="t" style="left:2180.00px;top:1071.83px;font-size:20px;color:#4bb04e;letter-spacing:0.088px;">Completed</span>
<span class="t" style="left:434.20px;top:1141.23px;font-size:20px;color:#222;transform-origin:1.00px 10.00px;transform:scaleX(0.9427);">12/10/2025</span>
<span class="t" style="left:791.00px;top:1142.21px;font-size:18px;color:#e0e0e0;font-weight:700;letter-spacing:-0.080px;transform-origin:1.00px 9.00px;transform:scaleX(0.9000);filter:blur(3.5px);">My Sample Site</span>
<span class="t" style="left:914.00px;top:1142.21px;font-size:18px;color:#e0e0e0;font-weight:700;transform-origin:0.00px 9.00px;transform:scaleX(0.9446);filter:blur(3.5px);">– Video Ads</span>
<span class="t" style="left:1139.10px;top:1141.23px;font-size:20px;color:#222;transform-origin:1.00px 10.00px;transform:scaleX(0.9709);">249,836</span>
<span class="t" style="left:1486.90px;top:1141.23px;font-size:20px;color:#222;transform-origin:0.00px 10.00px;transform:scaleX(0.9218);">$1,459.05</span>
<span class="t" style="left:1834.20px;top:1141.23px;font-size:20px;color:#222;transform-origin:0.00px 10.00px;transform:scaleX(0.9414);">$5.84</span>
<span class="t" style="left:2180.00px;top:1141.23px;font-size:20px;color:#4bb04e;letter-spacing:0.088px;">Completed</span>
<span class="t" style="left:434.20px;top:1210.53px;font-size:20px;color:#222;transform-origin:1.00px 10.00px;transform:scaleX(0.9211);">11/10/2025</span>
<span class="t" style="left:791.00px;top:1211.51px;font-size:18px;color:#e0e0e0;font-weight:700;letter-spacing:-0.080px;transform-origin:1.00px 9.00px;transform:scaleX(0.9000);filter:blur(3.5px);">My Sample Site</span>
<span class="t" style="left:914.00px;top:1211.51px;font-size:18px;color:#e0e0e0;font-weight:700;transform-origin:0.00px 9.00px;transform:scaleX(0.9446);filter:blur(3.5px);">– Video Ads</span>
<span class="t" style="left:1139.10px;top:1210.53px;font-size:20px;color:#222;transform-origin:1.00px 10.00px;transform:scaleX(0.9653);">236,248</span>
<span class="t" style="left:1486.90px;top:1210.53px;font-size:20px;color:#222;letter-spacing:-1.810px;transform-origin:0.00px 10.00px;transform:scaleX(0.9000);">$1,115.10</span>
<span class="t" style="left:1834.20px;top:1210.53px;font-size:20px;color:#222;transform-origin:0.00px 10.00px;transform:scaleX(0.9134);">$4.72</span>
<span class="t" style="left:2180.00px;top:1210.53px;font-size:20px;color:#4bb04e;letter-spacing:0.088px;">Completed</span>
<span class="t" style="left:434.20px;top:1279.83px;font-size:20px;color:#222;transform-origin:1.00px 10.00px;transform:scaleX(0.9528);">10/10/2025</span>
<span class="t" style="left:791.00px;top:1280.81px;font-size:18px;color:#e0e0e0;font-weight:700;letter-spacing:-0.080px;transform-origin:1.00px 9.00px;transform:scaleX(0.9000);filter:blur(3.5px);">My Sample Site</span>
<span class="t" style="left:914.00px;top:1280.81px;font-size:18px;color:#e0e0e0;font-weight:700;transform-origin:0.00px 9.00px;transform:scaleX(0.9446);filter:blur(3.5px);">– Video Ads</span>
<span class="t" style="left:1139.10px;top:1279.83px;font-size:20px;color:#222;transform-origin:1.00px 10.00px;transform:scaleX(0.9217);">223,691</span>
<span class="t" style="left:1486.90px;top:1279.83px;font-size:20px;color:#222;letter-spacing:-1.134px;transform-origin:0.00px 10.00px;transform:scaleX(0.9000);">$1,109.51</span>
<span class="t" style="left:1834.20px;top:1279.83px;font-size:20px;color:#222;transform-origin:0.00px 10.00px;transform:scaleX(0.9694);">$4.96</span>
<span class="t" style="left:2180.00px;top:1279.83px;font-size:20px;color:#4bb04e;letter-spacing:0.088px;">Completed</span>
<span class="t" style="left:435.20px;top:1349.43px;font-size:20px;color:#222;transform-origin:0.00px 10.00px;transform:scaleX(0.9812);">09/10/2025</span>
<span class="t" style="left:791.00px;top:1350.41px;font-size:18px;color:#e0e0e0;font-weight:700;letter-spacing:-0.080px;transform-origin:1.00px 9.00px;transform:scaleX(0.9000);filter:blur(3.5px);">My Sample Site</span>
<span class="t" style="left:914.00px;top:1350.41px;font-size:18px;color:#e0e0e0;font-weight:700;transform-origin:0.00px 9.00px;transform:scaleX(0.9446);filter:blur(3.5px);">– Video Ads</span>
<span class="t" style="left:1139.10px;top:1349.43px;font-size:20px;color:#222;transform-origin:1.00px 10.00px;transform:scaleX(0.9807);">206,854</span>
<span class="t" style="left:1486.90px;top:1349.43px;font-size:20px;color:#222;transform-origin:0.00px 10.00px;transform:scaleX(0.9810);">$804.66</span>
<span class="t" style="left:1834.20px;top:1349.43px;font-size:20px;color:#222;transform-origin:0.00px 10.00px;transform:scaleX(0.9474);">$3.89</span>
<span class="t" style="left:2180.00px;top:1349.43px;font-size:20px;color:#4bb04e;letter-spacing:0.088px;">Completed</span>
<span class="t" style="left:435.20px;top:1418.53px;font-size:20px;color:#222;transform-origin:0.00px 10.00px;transform:scaleX(0.9782);">08/10/2025</span>
<span class="t" style="left:791.00px;top:1419.51px;font-size:18px;color:#e0e0e0;font-weight:700;letter-spacing:-0.080px;transform-origin:1.00px 9.00px;transform:scaleX(0.9000);filter:blur(3.5px);">My Sample Site</span>
<span class="t" style="left:914.00px;top:1419.51px;font-size:18px;color:#e0e0e0;font-weight:700;transform-origin:0.00px 9.00px;transform:scaleX(0.9446);filter:blur(3.5px);">– Video Ads</span>
<span class="t" style="left:1139.10px;top:1418.53px;font-size:20px;color:#222;letter-spacing:-0.732px;transform-origin:1.00px 10.00px;transform:scaleX(0.9000);">194,317</span>
<span class="t" style="left:1486.90px;top:1418.53px;font-size:20px;color:#222;transform-origin:0.00px 10.00px;transform:scaleX(0.9810);">$806.42</span>
<span class="t" style="left:1834.20px;top:1418.53px;font-size:20px;color:#222;letter-spacing:-1.065px;transform-origin:0.00px 10.00px;transform:scaleX(0.9000);">$4.15</span>
<span class="t" style="left:2180.00px;top:1418.53px;font-size:20px;color:#4bb04e;letter-spacing:0.088px;">Completed</span>
</body></html>
